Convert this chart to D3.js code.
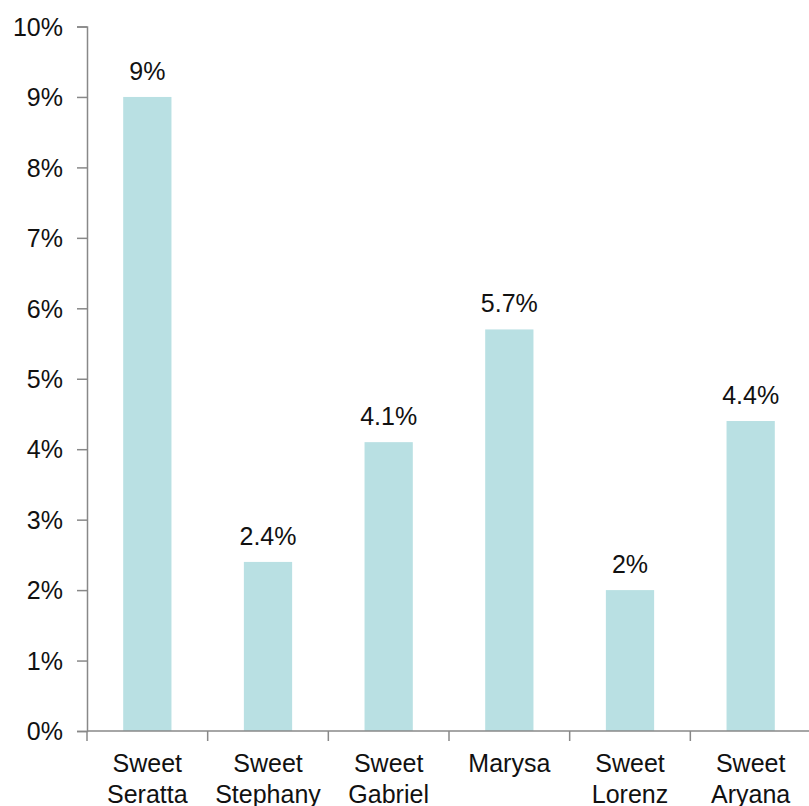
<!DOCTYPE html>
<html>
<head>
<meta charset="utf-8">
<script src="https://cdn.jsdelivr.net/npm/d3@7"></script>
<style>
	body { margin: 0; background: #fff; }
	svg text { font-family: "Liberation Sans", Arial, sans-serif; fill: #111; }
</style>
</head>
<body>
<div id="chart"></div>
<script>
// Chart data
var categories = ["Sweet Seratta", "Sweet Stephany", "Sweet Gabriel", "Marysa", "Sweet Lorenz", "Sweet Aryana"];
var values = [9, 2.4, 4.1, 5.7, 2, 4.4];
var valueLabels = ["9%", "2.4%", "4.1%", "5.7%", "2%", "4.4%"];
var yTicks = [0, 1, 2, 3, 4, 5, 6, 7, 8, 9, 10];

var width = 809, height = 806;
var plotLeft = 87, plotRight = 811, plotTop = 26.5, plotBottom = 731;
var fontSize = "25px";

var svg = d3.select("#chart").append("svg")
	.attr("width", width)
	.attr("height", height);

var x = d3.scaleBand()
	.domain(categories)
	.range([plotLeft, plotRight])
	.paddingInner(0.6)
	.paddingOuter(0.3);

var y = d3.scaleLinear()
	.domain([0, 10])
	.range([plotBottom, plotTop]);

// bars
svg.selectAll("rect.bar")
	.data(values)
	.enter().append("rect")
	.attr("class", "bar")
	.attr("x", function(d, i){ return x(categories[i]); })
	.attr("y", function(d){ return y(d); })
	.attr("width", x.bandwidth())
	.attr("height", function(d){ return plotBottom - y(d); })
	.style("fill", "#b9e0e3");

// value labels
svg.selectAll("text.val")
	.data(values)
	.enter().append("text")
	.attr("class", "val")
	.attr("x", function(d, i){ return x(categories[i]) + x.bandwidth() / 2; })
	.attr("y", function(d){ return y(d) - 17; })
	.attr("text-anchor", "middle")
	.style("font-size", fontSize)
	.text(function(d, i){ return valueLabels[i]; });

// y axis
var yAxis = d3.axisLeft(y)
	.tickValues(yTicks)
	.tickSize(10)
	.tickPadding(14)
	.tickFormat(function(d){ return d + "%"; });

var gy = svg.append("g")
	.attr("transform", "translate(" + plotLeft + ",0)")
	.call(yAxis);
gy.select(".domain").attr("stroke", "#888").attr("stroke-width", 1.5);
gy.selectAll(".tick line").attr("stroke", "#888").attr("stroke-width", 1.5);
gy.selectAll(".tick text")
	.style("font-size", fontSize)
	.style("font-family", "'Liberation Sans', Arial, sans-serif")
	.attr("fill", "#111")
	.attr("dy", "0.35em");

// x axis line and category boundary ticks
svg.append("line")
	.attr("x1", plotLeft).attr("x2", plotRight)
	.attr("y1", plotBottom).attr("y2", plotBottom)
	.attr("stroke", "#888").attr("stroke-width", 1.5);

svg.selectAll("line.xtick")
	.data(categories)
	.enter().append("line")
	.attr("class", "xtick")
	.attr("x1", function(d){ return x(d) - x.step() * x.paddingInner() / 2; })
	.attr("x2", function(d){ return x(d) - x.step() * x.paddingInner() / 2; })
	.attr("y1", plotBottom).attr("y2", plotBottom + 10)
	.attr("stroke", "#888").attr("stroke-width", 1.5);

// category labels, split on two lines
svg.selectAll("text.cat")
	.data(categories)
	.enter().append("text")
	.attr("class", "cat")
	.attr("text-anchor", "middle")
	.style("font-size", fontSize)
	.each(function(d){
		var words = d.split(" ");
		var cx = x(d) + x.bandwidth() / 2;
		var t = d3.select(this);
		words.forEach(function(w, i){
			t.append("tspan")
				.attr("x", cx)
				.attr("y", 772 + i * 31)
				.text(w);
		});
	});
</script>
</body>
</html>
